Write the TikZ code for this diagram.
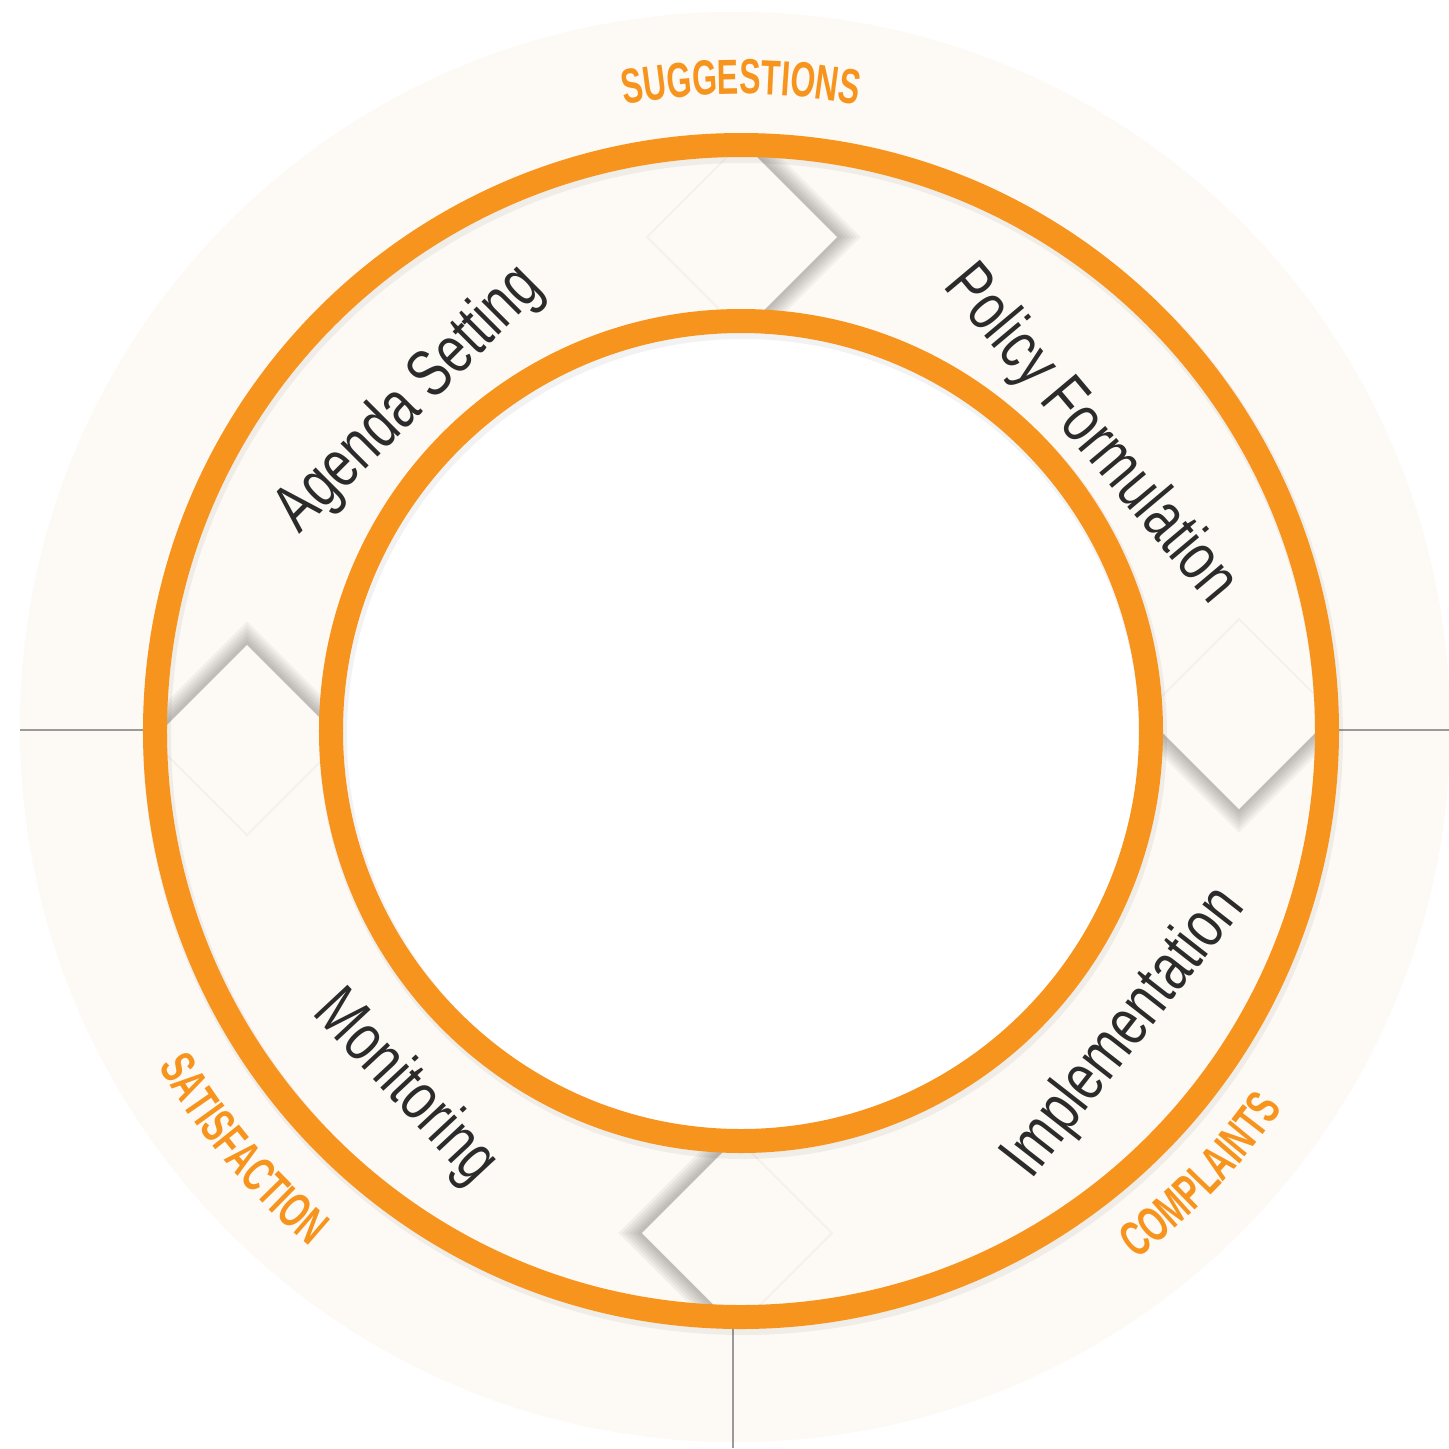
\documentclass[tikz,border=0pt]{standalone}
\usepackage{fontspec}
\usepackage{xcolor}
\usepackage{tikz}
\usetikzlibrary{decorations.text}
\setmainfont{Liberation Sans}
\newfontfamily\stagefont[FakeStretch=0.76]{Liberation Sans}
\newfontfamily\tagfont[FakeStretch=0.65]{Liberation Sans Bold}
\definecolor{cream}{HTML}{FDF9F4}
\definecolor{ringorange}{HTML}{F7941E}
\definecolor{stagegray}{HTML}{2B2B2B}
\definecolor{faintedge}{HTML}{F4F0EA}
\definecolor{dividergray}{HTML}{9A9A9A}

\begin{document}
\begin{tikzpicture}[
    stage/.style={font=\stagefont\fontsize{19}{19}\selectfont, text=stagegray, inner sep=0pt},
    ring/.style={draw=ringorange, line width=0.24cm},
    ringshadow/.style={draw=black, opacity=0.05, line width=0.28cm},
    divider/.style={draw=dividergray, line width=0.4pt},
    tag/.style={decorate, decoration={text along path, text align=center, text color=ringorange}}
]
    \useasboundingbox (-7.41,-7.17) rectangle (7.08,7.31);
    \fill[white] (-7.41,-7.17) rectangle (7.08,7.31);
    \clip (-7.41,-7.17) rectangle (7.08,7.31);
    \fill[cream] (-0.06,0.04) circle (7.15);

    \draw[divider] (-7.21,0.01) -- (-5.97,0.01);
    \draw[divider] (5.97,0.01) -- (7.08,0.01);
    \draw[divider] (-0.08,-5.97) -- (-0.08,-7.17);

    \begin{scope}
        \clip (0,0) circle (5.85);
        \foreach \cx/\cy/\ang in {0.01/4.94/0, 4.98/0.17/-90, -0.04/-5.02/180, -4.94/-0.09/90}{
            \begin{scope}[shift={(\cx,\cy)}, rotate=\ang]
                \foreach \w in {1.5,3,...,9}
                    \draw[black, opacity=0.045, line width=\w pt, shift={(0.012,0)}] (0,0.95) -- (0.95,0) -- (0,-0.95);
                \fill[cream] (0.95,0) -- (0,0.95) -- (-0.95,0) -- (0,-0.95) -- cycle;
                \draw[faintedge, line width=0.5pt] (0,0.95) -- (-0.95,0) -- (0,-0.95);
            \end{scope}
        }
    \end{scope}

    \fill[white] (0,0) circle (4.1);
    \draw[ringshadow] (0.02,-0.04) circle (5.86);
    \draw[ringshadow] (0.02,-0.04) circle (4.10);
    \draw[ring] (0,0) circle (5.86);
    \draw[ring] (0,0) circle (4.10);

    \node[stage, rotate=45] (agenda) at (-3.31,3.31) {Agenda Setting};
    \node[stage, rotate=-50] (policy) at (3.49,2.96) {Policy Formulation};
    \node[stage, rotate=52] (implementation) at (3.84,-3.02) {Implementation};
    \node[stage, rotate=-47] (monitoring) at (-3.36,-3.57) {Monitoring};

    \path[tag, decoration={text={|\tagfont\fontsize{14}{14}\selectfont|SUGGESTIONS}}]
        (120:6.37) arc[start angle=120, end angle=60, radius=6.37];
    \path[tag, decoration={text={|\tagfont\fontsize{14}{14}\selectfont|SATISFACTION}}]
        (-175:6.72) arc[start angle=-175, end angle=-105, radius=6.72];
    \path[tag, decoration={text={|\tagfont\fontsize{14}{14}\selectfont|COMPLAINTS}}]
        (-79:6.60) arc[start angle=-79, end angle=-9, radius=6.60];
\end{tikzpicture}
\end{document}
